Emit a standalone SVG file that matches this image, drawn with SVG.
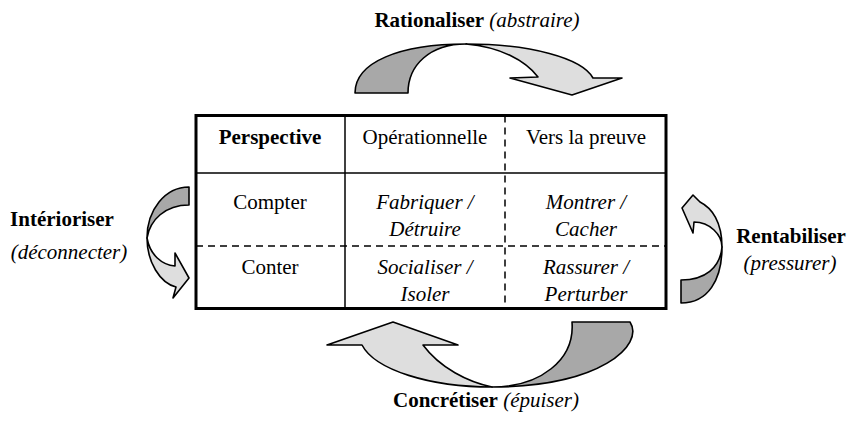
<svg xmlns="http://www.w3.org/2000/svg" width="850" height="421" viewBox="0 0 850 421">
<style>
text{font-family:"Liberation Serif","Times New Roman",serif;font-size:21px;fill:#000}
.b{font-weight:bold}
.i{font-style:italic}
.m{text-anchor:middle}
.dk{fill:#a8a8a8;stroke:#000;stroke-width:1.6;stroke-linejoin:round}
.lt{fill:#dedede;stroke:#000;stroke-width:1.6;stroke-linejoin:round}
.solid{stroke:#000;stroke-width:1.5;fill:none}
.dash{stroke:#000;stroke-width:1.5;fill:none;stroke-dasharray:7 5}
</style>
<rect width="850" height="421" fill="#fff"/>
<g id="table">
<rect x="196" y="115.5" width="470" height="193" fill="#fff" stroke="#000" stroke-width="3"/>
<line class="solid" x1="196" y1="173" x2="666" y2="173"/>
<line class="dash" x1="196" y1="246" x2="666" y2="246"/>
<line class="solid" x1="345" y1="115.5" x2="345" y2="308.5"/>
<line class="dash" x1="505" y1="115.5" x2="505" y2="308.5"/>
<text class="b m" x="270" y="144">Perspective</text>
<text class="m" x="425" y="144">Opérationnelle</text>
<text class="m" x="586" y="144">Vers la preuve</text>
<text class="m" x="270" y="209">Compter</text>
<text class="i m" x="425" y="209">Fabriquer /</text>
<text class="i m" x="425" y="236">Détruire</text>
<text class="i m" x="586" y="209">Montrer /</text>
<text class="i m" x="586" y="236">Cacher</text>
<text class="m" x="270" y="274">Conter</text>
<text class="i m" x="425" y="274">Socialiser /</text>
<text class="i m" x="425" y="301">Isoler</text>
<text class="i m" x="586" y="274">Rassurer /</text>
<text class="i m" x="586" y="301">Perturber</text>
</g>
<g id="connectors">
<g id="arrow-top">
<path class="dk" d="M355,93 L408,93 C408,65 430,44 466,44 C400,44 355,62 355,93 Z"/>
<path class="lt" d="M466,44 C530,44 582,58 593,78 L622,78 L572,95 L510,78 L538,77 C525,60 500,47 466,44 Z"/>
</g>
<g id="arrow-bottom">
<path class="dk" d="M572,322 L630,322 C645,345 600,387 492,387 C540,387 575,360 572,322 Z"/>
<path class="lt" d="M492,387 C430,387 375,370 362,345 L327,345 L393,322 L458,345 L423,345 C440,368 468,382 492,387 Z"/>
</g>
<g id="arrow-left">
<path class="dk" d="M189,187 L189,205 C165,205 150,220 147,238 C147,210 165,187 189,187 Z"/>
<path class="lt" d="M147,238 C150,255 162,265 175,266 L175,253 L189,278 L173,298 L176,287 C160,283 147,262 147,238 Z"/>
</g>
<g id="arrow-right">
<path class="dk" d="M681,280 L681,303 C708,303 722,280 722,247 C720,268 705,280 681,280 Z"/>
<path class="lt" d="M722,247 C722,222 712,208 700,202 L693,195 L682,208 L693,233 L694,222 C710,222 722,235 722,247 Z"/>
</g>
</g>
<g id="labels">
<text x="477" y="27" class="m"><tspan class="b">Rationaliser</tspan> <tspan class="i">(abstraire)</tspan></text>
<text x="486" y="407" class="m"><tspan class="b">Concrétiser</tspan> <tspan class="i">(épuiser)</tspan></text>
<text x="62" y="226" class="b m">Intérioriser</text>
<text x="69" y="259" class="i m">(déconnecter)</text>
<text x="791" y="243" class="b m">Rentabiliser</text>
<text x="790" y="270" class="i m">(pressurer)</text>
</g>
</svg>
